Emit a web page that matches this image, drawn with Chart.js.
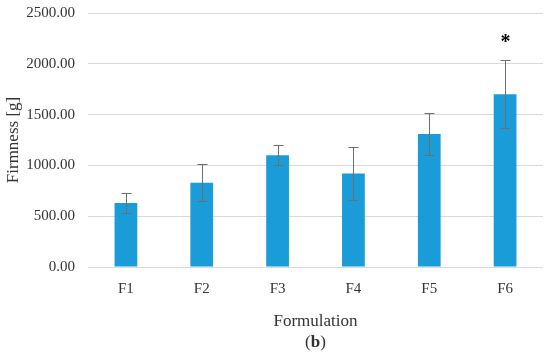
<!DOCTYPE html>
<html>
<head>
<meta charset="utf-8">
<script src="https://cdn.jsdelivr.net/npm/chart.js@4/dist/chart.umd.min.js"></script>
<style>
  html, body { margin: 0; padding: 0; background: #fff; }
  #wrap { width: 550px; height: 361px; }
</style>
</head>
<body>
<div id="wrap"><canvas id="firmness"></canvas></div>
<script>
// Firmness by formulation
const labels = ["F1", "F2", "F3", "F4", "F5", "F6"];
const means = [630, 830, 1100, 920, 1310, 1700];
const sds = [95, 185, 100, 265, 210, 335];
const marked = [false, false, false, false, false, true];
const yTicks = [0, 500, 1000, 1500, 2000, 2500];

const barColor = "#1a9cd8";
const errColor = "#6e6e6e";
const gridColor = "#d9d9d9";
const textColor = "#333";
const font = "'Liberation Serif', 'DejaVu Serif', serif";

// error bars + significance star + panel letter, drawn on top of everything
const errorBarPlugin = {
  id: "errorBars",
  afterDraw(chart) {
    const ctx = chart.ctx;
    const x = chart.scales.x, y = chart.scales.y;
    ctx.save();
    ctx.strokeStyle = errColor;
    ctx.lineWidth = 1;
    for (let i = 0; i < means.length; i++) {
      const cx = Math.round(x.getPixelForValue(i)) + 0.5;
      const top = Math.round(y.getPixelForValue(means[i] + sds[i])) + 0.5;
      const bot = Math.round(y.getPixelForValue(means[i] - sds[i])) + 0.5;
      ctx.beginPath();
      ctx.moveTo(cx, top); ctx.lineTo(cx, bot);
      ctx.moveTo(cx - 5, top); ctx.lineTo(cx + 5, top);
      ctx.moveTo(cx - 5, bot); ctx.lineTo(cx + 5, bot);
      ctx.stroke();
      if (marked[i]) {
        ctx.fillStyle = "#000";
        ctx.font = "bold 20px " + font;
        ctx.textAlign = "center";
        ctx.textBaseline = "middle";
        ctx.fillText("*", cx, top - 18);
      }
    }

    // panel letter "(b)"
    const mid = (chart.chartArea.left + chart.chartArea.right) / 2;
    ctx.fillStyle = textColor;
    ctx.textAlign = "left";
    ctx.textBaseline = "middle";
    ctx.font = "17px " + font;
    const wOpen = ctx.measureText("(").width;
    ctx.font = "bold 17px " + font;
    const wB = ctx.measureText("b").width;
    const x0 = mid - (wOpen * 2 + wB) / 2;
    ctx.font = "17px " + font;
    ctx.fillText("(", x0, 343);
    ctx.font = "bold 17px " + font;
    ctx.fillText("b", x0 + wOpen, 343);
    ctx.font = "17px " + font;
    ctx.fillText(")", x0 + wOpen + wB, 343);
    ctx.restore();
  }
};

new Chart("firmness", {
  type: "bar",
  data: {
    labels: labels,
    datasets: [{
      data: means,
      backgroundColor: barColor,
      borderWidth: 0,
      barPercentage: 0.3,
      categoryPercentage: 1
    }]
  },
  options: {
    responsive: true,
    maintainAspectRatio: false,
    animation: false,
    layout: { padding: { top: 13, right: 7, bottom: 29, left: 0 } },
    plugins: {
      legend: { display: false },
      tooltip: { enabled: false }
    },
    scales: {
      x: {
        afterFit(scale) {
          scale.height = 65;
          scale.paddingLeft = 0;
          scale.paddingRight = 0;
        },
        grid: { display: false },
        border: { display: false },
        ticks: { color: textColor, font: { family: font, size: 15 }, padding: 5 },
        title: {
          display: true,
          text: "Formulation",
          color: textColor,
          font: { family: font, size: 17 },
          padding: { top: 0, bottom: 0 }
        }
      },
      y: {
        min: 0,
        max: 2500,
        afterBuildTicks(scale) {
          scale.ticks = yTicks.map(v => ({ value: v }));
        },
        afterFit(scale) {
          scale.width = 88;
          scale.paddingTop = 0;
          scale.paddingBottom = 0;
        },
        grid: { color: gridColor, drawTicks: false },
        border: { display: false },
        ticks: {
          color: textColor,
          font: { family: font, size: 15 },
          padding: 13,
          callback: v => v.toFixed(2)
        },
        title: {
          display: true,
          text: "Firmness [g]",
          color: textColor,
          font: { family: font, size: 17 },
          padding: { top: 3, bottom: 0 }
        }
      }
    }
  },
  plugins: [errorBarPlugin]
});
</script>
</body>
</html>
